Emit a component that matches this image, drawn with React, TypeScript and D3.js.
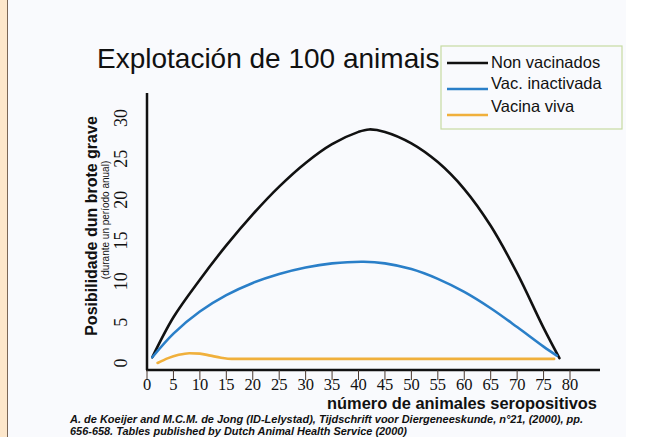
import React from 'react';
import * as d3 from 'd3';

// number of seropositive animals (x) and probability of a severe outbreak (y)
const noVacX = [1, 5, 10, 15, 20, 25, 30, 35, 40, 42, 45, 50, 55, 60, 65, 70, 75, 78];
const noVacY = [0.7, 5.6, 10.2, 14.4, 18.2, 21.6, 24.5, 26.8, 28.3, 28.6, 28.3, 26.9, 24.6, 21.3, 16.8, 11, 4.3, 0.6];

const inactX = [1, 5, 10, 15, 20, 25, 30, 35, 41, 45, 50, 55, 60, 65, 70, 75, 77.5];
const inactY = [0.7, 3.6, 6.3, 8.3, 9.8, 10.9, 11.7, 12.2, 12.4, 12.2, 11.5, 10.3, 8.7, 6.7, 4.4, 2.0, 0.9];

const vivaX = [2, 4, 6, 8, 10, 12, 14, 16, 20, 40, 60, 77];
const vivaY = [0, 0.6, 1.0, 1.2, 1.15, 0.9, 0.65, 0.5, 0.5, 0.5, 0.5, 0.5];

const xTicks = [0, 5, 10, 15, 20, 25, 30, 35, 40, 45, 50, 55, 60, 65, 70, 75, 80];
const yTicks = [0, 5, 10, 15, 20, 25, 30];

const seriesNames = ['Non vacinados', 'Vac. inactivada', 'Vacina viva'];
const colors = ['#111111', '#2a7fc8', '#f0b03c'];

const serif = '"Liberation Serif", "DejaVu Serif", serif';
const sans = '"Liberation Sans", Arial, sans-serif';

export default function App() {
  const width = 651, height = 437;

  const x = d3.scaleLinear().domain([0, 80]).range([147, 570]);
  const y = d3.scaleLinear().domain([0, 30]).range([363, 118]);
  const axisY = 370;

  const smooth = d3.line<[number, number]>()
    .x(d => x(d[0]))
    .y(d => y(d[1]))
    .curve(d3.curveCatmullRom.alpha(0.5));
  const flat = d3.line<[number, number]>()
    .x(d => x(d[0]))
    .y(d => y(d[1]))
    .curve(d3.curveMonotoneX);

  const series = [
    d3.zip(noVacX, noVacY) as [number, number][],
    d3.zip(inactX, inactY) as [number, number][],
    d3.zip(vivaX, vivaY) as [number, number][],
  ];

  return (
    <svg width={width} height={height} style={{ position: 'absolute', left: 0, top: 0, display: 'block' }}>
      <rect x={0} y={0} width={width} height={height} fill="#ffffff" />
      <rect x={8} y={0} width={618} height={height} fill="#f9fafd" />
      <rect x={0} y={0} width={7} height={height} fill="#fde7cb" />
      <line x1={7.5} x2={7.5} y1={0} y2={height} stroke="#7a6656" strokeWidth={1} />

      <text x={97} y={68} fontFamily={sans} fontSize={28} fill="#111">Explotación de 100 animais</text>

      {/* legend */}
      <rect x={441} y={46} width={181} height={83} fill="none" stroke="#c6dba2" strokeWidth={1.2} />
      {seriesNames.map((name, i) => {
        const lineY = [63, 89, 115][i];
        const textY = [68, 89, 112][i];
        return (
          <g key={name}>
            <line x1={447} x2={488} y1={lineY} y2={lineY} stroke={colors[i]} strokeWidth={2.5} />
            <text x={491} y={textY} fontFamily={sans} fontSize={16.5} fill="#111">{name}</text>
          </g>
        );
      })}

      {/* curves */}
      {series.map((d, i) => (
        <path key={i} d={(i === 2 ? flat(d) : smooth(d)) || ''} fill="none" stroke={colors[i]}
          strokeWidth={2.6} strokeLinecap="round" />
      ))}

      {/* axes */}
      <line x1={147} x2={147} y1={93} y2={axisY} stroke="#111" strokeWidth={2.5} />
      <line x1={146} x2={600} y1={axisY} y2={axisY} stroke="#111" strokeWidth={2.5} />
      {xTicks.map(t => (
        <g key={t}>
          <line x1={x(t)} x2={x(t)} y1={axisY} y2={380} stroke="#4a3a32" strokeWidth={1} />
          <text x={x(t)} y={390} textAnchor="middle" fontFamily={serif} fontSize={16.5} fill="#111">{t}</text>
        </g>
      ))}
      {yTicks.map(t => (
        <text key={t} transform={`translate(127,${y(t)}) rotate(-90)`} textAnchor="middle"
          fontFamily={serif} fontSize={18} fill="#111">{t}</text>
      ))}

      <text transform="translate(97,226) rotate(-90)" textAnchor="middle" fontFamily={sans}
        fontSize={16} fontWeight="bold" fill="#111">Posibilidade dun brote grave</text>
      <text transform="translate(109,220) rotate(-90)" textAnchor="middle" fontFamily={sans}
        fontSize={10} fill="#111">(durante un período anual)</text>

      <text x={597} y={409} textAnchor="end" fontFamily={sans} fontSize={16} fontWeight="bold" fill="#111"
        textLength={270} lengthAdjust="spacingAndGlyphs">
        número de animales seropositivos
      </text>

      <text x={70} y={423} fontFamily={sans} fontSize={10.5} fontWeight="bold" fontStyle="italic" fill="#111"
        textLength={513} lengthAdjust="spacingAndGlyphs">
        A. de Koeijer and M.C.M. de Jong (ID-Lelystad), Tijdschrift voor Diergeneeskunde,  n°21, (2000), pp.
      </text>
      <text x={70} y={435} fontFamily={sans} fontSize={10.5} fontWeight="bold" fontStyle="italic" fill="#111"
        textLength={337} lengthAdjust="spacingAndGlyphs">
        656-658. Tables published by Dutch Animal Health Service (2000)
      </text>
    </svg>
  );
}
